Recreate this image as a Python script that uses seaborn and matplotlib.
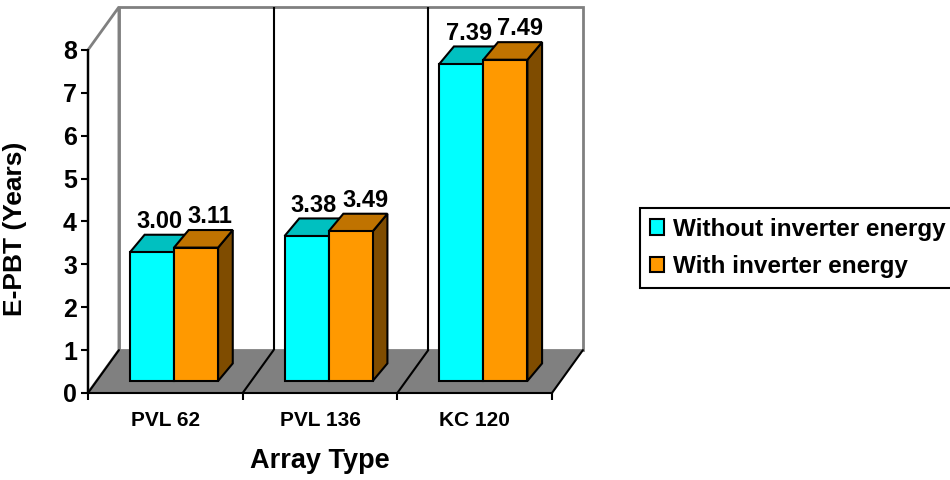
import numpy as np
import pandas as pd
import matplotlib
matplotlib.use("Agg")
import matplotlib.pyplot as plt
import seaborn as sns
from matplotlib.patches import Polygon, Patch

# ---- data ----
categories = ["PVL 62", "PVL 136", "KC 120"]
without_inverter = [3.00, 3.38, 7.39]
with_inverter = [3.11, 3.49, 7.49]
series_names = ["Without inverter energy", "With inverter energy"]
y_ticks = [0, 1, 2, 3, 4, 5, 6, 7, 8]
x_title = "Array Type"
y_title = "E-PBT (Years)"

# ---- style ----
sns.set_style("white")
plt.rcParams["font.family"] = ["Liberation Sans", "DejaVu Sans"]
plt.rcParams["font.weight"] = "bold"
for k in ["text.color", "axes.labelcolor", "xtick.color", "ytick.color"]:
    plt.rcParams[k] = "black"

front_colors = ["#00FFFF", "#FF9900"]
top_colors = ["#00C0C0", "#C07300"]
side_colors = ["#008080", "#7F4C00"]

df = pd.DataFrame({
    "Array": categories * 2,
    "EPBT": without_inverter + with_inverter,
    "Series": [series_names[0]] * len(categories) + [series_names[1]] * len(categories),
})

fig = plt.figure(figsize=(9.5, 4.8), dpi=100)
ax = fig.add_axes([88 / 950, 87 / 480, 494.9 / 950, 386 / 480])

sns.barplot(data=df, x="Array", y="EPBT", hue="Series", order=categories,
            hue_order=series_names, palette=front_colors, saturation=1,
            width=0.57, edgecolor="black", linewidth=1.5, errorbar=None,
            legend=False, ax=ax)

# 3D projection offsets (data units)
WX, WY = 0.2, 1.0          # full depth of the plot box
FX, FY = 0.28 * WX, 0.28 * WY  # front face of the bars
BX, BY = 0.095, 0.41       # depth of each bar
label_dx = [0.0, 0.045]

ymax = max(y_ticks)
nc = len(categories)

# back wall, side wall, floor
ax.add_patch(Polygon([(-0.5 + WX, WY), (nc - 0.5 + WX, WY), (nc - 0.5 + WX, ymax + WY),
                      (-0.5 + WX, ymax + WY)], closed=True, fc="white", ec="#808080",
                     lw=2, zorder=0.2, clip_on=False))
ax.add_patch(Polygon([(-0.5, 0), (-0.5, ymax), (-0.5 + WX, ymax + WY), (-0.5 + WX, WY)],
                     closed=True, fc="white", ec="#808080", lw=2, zorder=0.3, clip_on=False))
for b in np.arange(0.5, nc - 0.5, 1.0):
    ax.plot([b + WX, b + WX], [WY, ymax + WY], color="black", lw=1.5, zorder=0.4)
ax.add_patch(Polygon([(-0.5, 0), (nc - 0.5, 0), (nc - 0.5 + WX, WY), (-0.5 + WX, WY)],
                     closed=True, fc="#808080", ec="none", zorder=0.5, clip_on=False))
for b in np.arange(-0.5, nc, 1.0):
    ax.plot([b, b + WX], [0, WY], color="black", lw=1.5, zorder=0.6, clip_on=False)

# turn the flat bars into 3D blocks
for i, cont in enumerate(ax.containers):
    for p in cont.patches:
        x0 = p.get_x() + FX
        w = p.get_width()
        h = p.get_height()
        p.set_x(x0)
        p.set_y(FY)
        p.set_zorder(3 + i + 0.3)
        ytop = FY + h
        side = Polygon([(x0 + w, FY), (x0 + w, ytop), (x0 + w + BX, ytop + BY), (x0 + w + BX, FY + BY)],
                       closed=True, fc=side_colors[i], ec="black", lw=1.5, zorder=3 + i + 0.1)
        top = Polygon([(x0, ytop), (x0 + w, ytop), (x0 + w + BX, ytop + BY), (x0 + BX, ytop + BY)],
                      closed=True, fc=top_colors[i], ec="black", lw=1.5, zorder=3 + i + 0.2)
        ax.add_patch(side)
        ax.add_patch(top)
        ax.text(x0 + w / 2 + BX / 2 + label_dx[i], ytop + BY + 0.16, f"{h:.2f}",
                ha="center", va="baseline", fontsize=17, fontweight="bold", zorder=6)

ax.set_xlim(-0.5, nc - 0.5 + WX)
ax.set_ylim(0, ymax + WY)

# axes
for s in ["top", "right"]:
    ax.spines[s].set_visible(False)
ax.spines["left"].set_bounds(0, ymax)
ax.spines["bottom"].set_bounds(-0.5, nc - 0.5)
for s in ["left", "bottom"]:
    ax.spines[s].set_color("black")
    ax.spines[s].set_linewidth(1.5)
    ax.spines[s].set_zorder(0.7)

ax.set_yticks(y_ticks)
ax.set_yticklabels([str(t) for t in y_ticks])
ax.tick_params(axis="y", left=True, direction="out", length=5, width=1.5, color="black",
               labelsize=18, pad=3)
ax.set_xticks(np.arange(-0.5, nc, 1.0))
ax.set_xticklabels([""] * (nc + 1))
ax.set_xticks(np.arange(nc), minor=True)
ax.set_xticklabels(categories, minor=True, fontsize=15, fontweight="bold")
ax.tick_params(axis="x", which="major", bottom=True, direction="out", length=5, width=1.5,
               color="black")
ax.tick_params(axis="x", which="minor", bottom=True, length=0, pad=13)

ax.set_xlabel(x_title, fontsize=19.5, fontweight="bold")
ax.xaxis.set_label_coords(0.469, -0.176)
ax.xaxis.label.set_verticalalignment("center")
ax.set_ylabel(y_title, fontsize=19, fontweight="bold")
ax.yaxis.set_label_coords(-0.147, 0.425)
ax.yaxis.label.set_verticalalignment("center")

handles = [Patch(fc=c, ec="black", lw=1.5) for c in front_colors]
leg = fig.legend(handles, series_names, loc="upper left",
                 bbox_to_anchor=(640 / 950, 1 - 208 / 480), bbox_transform=fig.transFigure,
                 prop={"weight": "bold", "size": 17.5}, frameon=True, fancybox=False,
                 edgecolor="black", framealpha=1, handlelength=0.6, handleheight=0.6,
                 handletextpad=0.35, labelspacing=0.6, borderpad=0.4, borderaxespad=0)
leg.get_frame().set_linewidth(1.5)

fig.savefig("out.png", dpi=100)
